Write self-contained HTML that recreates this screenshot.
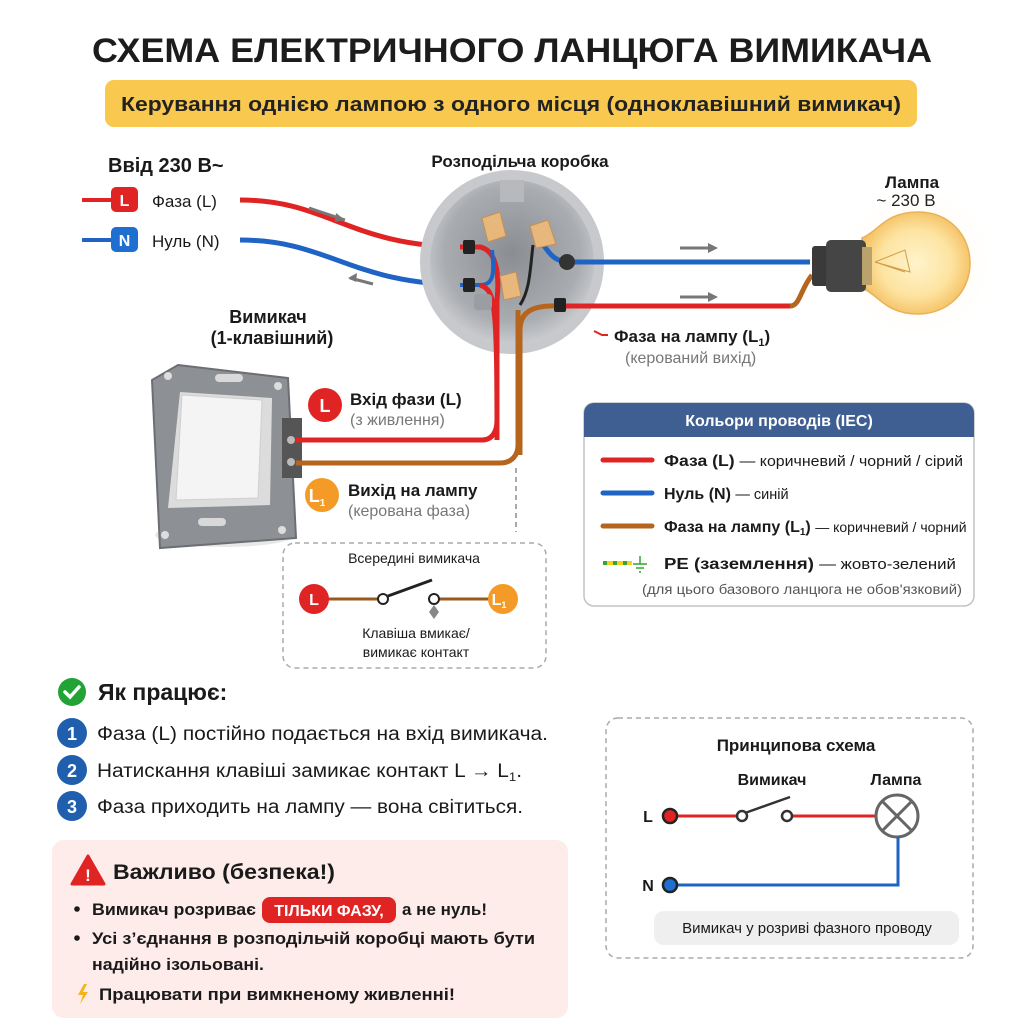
<!DOCTYPE html>
<html><head><meta charset="utf-8"><style>
html,body{margin:0;padding:0;background:#fff}
svg{display:block}
text{font-family:"Liberation Sans","DejaVu Sans",sans-serif}
</style></head><body>
<svg width="1024" height="1024" viewBox="0 0 1024 1024" xmlns="http://www.w3.org/2000/svg">
<defs>
<radialGradient id="bulb" cx="0.5" cy="0.5" r="0.55"><stop offset="0" stop-color="#fff4cc"/><stop offset="0.6" stop-color="#fde3a0"/><stop offset="1" stop-color="#f3bd5c"/></radialGradient>
<radialGradient id="glow" cx="0.5" cy="0.5" r="0.5"><stop offset="0" stop-color="#fff3cf" stop-opacity="0.9"/><stop offset="1" stop-color="#fff" stop-opacity="0"/></radialGradient>
<radialGradient id="box" cx="0.5" cy="0.45" r="0.55"><stop offset="0" stop-color="#8a8d92"/><stop offset="0.75" stop-color="#a9acb0"/><stop offset="1" stop-color="#c9cbce"/></radialGradient>
</defs>
<rect width="1024" height="1024" fill="#fff"/>
<text x="512" y="62" text-anchor="middle" font-size="34" font-weight="bold" fill="#1c1c1c" textLength="840" lengthAdjust="spacingAndGlyphs">СХЕМА ЕЛЕКТРИЧНОГО ЛАНЦЮГА ВИМИКАЧА</text>
<rect x="105" y="80" width="812" height="47" rx="9" fill="#f9c94f"/>
<text x="511" y="111" text-anchor="middle" font-size="20" font-weight="bold" fill="#222" textLength="780" lengthAdjust="spacingAndGlyphs">Керування однією лампою з одного місця (одноклавішний вимикач)</text>

<text x="108" y="172" font-size="20" font-weight="bold" fill="#1a1a1a">Ввід 230 В~</text>
<line x1="82" y1="200" x2="112" y2="200" stroke="#e02424" stroke-width="4"/>
<rect x="111" y="187" width="27" height="25" rx="5" fill="#e02424"/>
<text x="124.5" y="206" text-anchor="middle" font-size="16" font-weight="bold" fill="#fff">L</text>
<text x="152" y="207" font-size="17" fill="#1a1a1a">Фаза (L)</text>
<line x1="82" y1="240" x2="112" y2="240" stroke="#1f63c4" stroke-width="4"/>
<rect x="111" y="227" width="27" height="25" rx="5" fill="#1f6fd0"/>
<text x="124.5" y="246" text-anchor="middle" font-size="16" font-weight="bold" fill="#fff">N</text>
<text x="152" y="247" font-size="17" fill="#1a1a1a">Нуль (N)</text>

<path d="M240 200 C330 200,350 248,470 247" fill="none" stroke="#e02424" stroke-width="5"/>
<path d="M240 240 C330 240,350 285,470 285" fill="none" stroke="#1f63c4" stroke-width="5"/>
<path d="M309 208 L345 220" stroke="#777" stroke-width="3"/><path d="M345 220 l-9 -7 l-1 9z" fill="#777"/>
<path d="M373 284 L350 278" stroke="#777" stroke-width="3"/><path d="M348 278 l9 -5 l-1 9z" fill="#777"/>

<text x="520" y="167" text-anchor="middle" font-size="17" font-weight="bold" fill="#1a1a1a">Розподільча коробка</text>
<circle cx="512" cy="262" r="92" fill="#c7c9cc"/>
<circle cx="512" cy="262" r="82" fill="url(#box)"/>
<rect x="500" y="180" width="24" height="22" fill="#b7b9bc"/>
<path d="M460 247 L480 247 C495 250,500 270,497 300 L497 320" fill="none" stroke="#e02424" stroke-width="5"/>
<path d="M460 285 L480 285 C493 285,495 275,492 250" fill="none" stroke="#1f63c4" stroke-width="4"/>
<path d="M480 285 C495 290,497 300,497 440" fill="none" stroke="#e02424" stroke-width="5"/>
<path d="M540 240 C550 255,555 262,570 262 L810 262" fill="none" stroke="#1f63c4" stroke-width="5"/>
<path d="M520 455 L520 330 C520 310,535 305,560 306 L790 306 C800 306,800 290,812 275" fill="none" stroke="#b5651d" stroke-width="5"/>
<path d="M560 306 L790 306" stroke="#e02424" stroke-width="5"/>
<path d="M533 245 C530 270,530 290,520 305" fill="none" stroke="#222" stroke-width="3"/>
<rect x="463" y="240" width="12" height="14" rx="2" fill="#222"/>
<rect x="463" y="278" width="12" height="14" rx="2" fill="#222"/>
<rect x="554" y="298" width="12" height="14" rx="2" fill="#222"/>
<circle cx="567" cy="262" r="8" fill="#333"/>
<path d="M482 218 l18 -6 l6 24 l-18 6z" fill="#e8b77c" stroke="#c49057"/>
<path d="M530 226 l18 -6 l8 24 l-20 4z" fill="#e8b77c" stroke="#c49057"/>
<path d="M500 276 l16 -4 l5 24 l-17 4z" fill="#e8b77c" stroke="#c49057"/>
<rect x="474" y="294" width="18" height="16" rx="4" fill="#9a9da1"/>

<line x1="680" y1="248" x2="710" y2="248" stroke="#777" stroke-width="3"/><path d="M718 248 l-10 -5 v10z" fill="#777"/>
<line x1="680" y1="297" x2="710" y2="297" stroke="#777" stroke-width="3"/><path d="M718 297 l-10 -5 v10z" fill="#777"/>

<circle cx="918" cy="262" r="85" fill="url(#glow)"/>
<text x="912" y="188" text-anchor="middle" font-size="17" font-weight="bold" fill="#1a1a1a">Лампа</text>
<text x="906" y="206" text-anchor="middle" font-size="17" fill="#222">~ 230 В</text>
<path d="M862 238 C878 232,885 212,918 212 C950 212,970 236,970 263 C970 292,948 314,918 314 C885 314,878 294,862 288z" fill="url(#bulb)" stroke="#e9b15a" stroke-width="1.5"/>
<path d="M875 262 L905 250 L910 272 L875 262 M875 262 L905 272" stroke="#d49a45" fill="none"/>
<rect x="812" y="246" width="18" height="40" rx="3" fill="#3a3a3a"/>
<rect x="826" y="240" width="40" height="52" rx="5" fill="#454545"/>
<rect x="862" y="247" width="10" height="38" fill="#b9a26c"/>

<text x="614" y="342" font-size="17" font-weight="bold" fill="#1a1a1a">Фаза на лампу (L<tspan font-size="11" dy="4">1</tspan><tspan dy="-4">)</tspan></text>
<text x="625" y="363" font-size="16" fill="#777">(керований вихід)</text>
<path d="M594 331 l8 4 h6" stroke="#e02424" stroke-width="2" fill="none"/>

<text x="268" y="323" text-anchor="middle" font-size="18" font-weight="bold" fill="#1a1a1a">Вимикач</text>
<text x="272" y="344" text-anchor="middle" font-size="18" font-weight="bold" fill="#1a1a1a">(1-клавішний)</text>
<ellipse cx="225" cy="535" rx="70" ry="12" fill="#e8e8e8"/>
<path d="M178 365 L288 378 L296 538 L160 548 L152 380z" fill="#8d9196" stroke="#6b6f74" stroke-width="2"/>
<path d="M180 392 L272 398 L270 505 L168 508z" fill="#dcdcdc"/>
<path d="M182 395 L262 400 L258 498 L176 500z" fill="#f4f4f4" stroke="#cfcfcf"/>
<rect x="215" y="374" width="28" height="8" rx="4" fill="#d9d9d9"/>
<rect x="198" y="518" width="28" height="8" rx="4" fill="#d9d9d9"/>
<circle cx="168" cy="376" r="4" fill="#ddd"/><circle cx="278" cy="386" r="4" fill="#ddd"/>
<circle cx="165" cy="535" r="4" fill="#ddd"/><circle cx="282" cy="530" r="4" fill="#ddd"/>
<rect x="282" y="418" width="20" height="60" fill="#555"/>
<circle cx="291" cy="440" r="4" fill="#bbb"/><circle cx="291" cy="462" r="4" fill="#bbb"/>
<path d="M296 440 L482 440 C492 440,497 432,497 420 L497 300" fill="none" stroke="#e02424" stroke-width="5"/>
<path d="M296 463 L500 463 C512 463,518 455,518 445 L518 310" fill="none" stroke="#b5651d" stroke-width="5"/>

<circle cx="325" cy="405" r="17" fill="#e02424"/>
<text x="325" y="412" text-anchor="middle" font-size="18" font-weight="bold" fill="#fff">L</text>
<text x="350" y="405" font-size="17" font-weight="bold" fill="#1a1a1a">Вхід фази (L)</text>
<text x="350" y="425" font-size="16" fill="#777">(з живлення)</text>
<circle cx="322" cy="495" r="17" fill="#f39a27"/>
<text x="317" y="502" text-anchor="middle" font-size="18" font-weight="bold" fill="#fff">L<tspan font-size="10" dy="4">1</tspan></text>
<text x="348" y="496" font-size="17" font-weight="bold" fill="#1a1a1a">Вихід на лампу</text>
<text x="348" y="516" font-size="16" fill="#777">(керована фаза)</text>
<line x1="516" y1="468" x2="516" y2="532" stroke="#aaa" stroke-width="2" stroke-dasharray="5 4"/>

<rect x="283" y="543" width="263" height="125" rx="12" fill="none" stroke="#aaa" stroke-width="1.5" stroke-dasharray="5 4"/>
<text x="414" y="563" text-anchor="middle" font-size="14" fill="#1a1a1a">Всередині вимикача</text>
<line x1="318" y1="599" x2="383" y2="599" stroke="#9a5a1e" stroke-width="3"/>
<line x1="436" y1="599" x2="500" y2="599" stroke="#9a5a1e" stroke-width="3"/>
<line x1="388" y1="596" x2="432" y2="580" stroke="#222" stroke-width="3"/>
<circle cx="383" cy="599" r="5" fill="#fff" stroke="#222" stroke-width="2"/>
<circle cx="434" cy="599" r="5" fill="#fff" stroke="#222" stroke-width="2"/>
<path d="M434 605 l5 7 l-5 7 l-5 -7z" fill="#888"/>
<circle cx="314" cy="599" r="15" fill="#e02424"/><text x="314" y="605" text-anchor="middle" font-size="16" font-weight="bold" fill="#fff">L</text>
<circle cx="503" cy="599" r="15" fill="#f39a27"/><text x="499" y="605" text-anchor="middle" font-size="16" font-weight="bold" fill="#fff">L<tspan font-size="9" dy="3">1</tspan></text>
<text x="416" y="638" text-anchor="middle" font-size="14" fill="#1a1a1a">Клавіша вмикає/</text>
<text x="416" y="657" text-anchor="middle" font-size="14" fill="#1a1a1a">вимикає контакт</text>

<rect x="584" y="403" width="390" height="203" rx="10" fill="#fff" stroke="#c4c4c4" stroke-width="1.5"/>
<path d="M584 437 V413 a10 10 0 0 1 10 -10 H964 a10 10 0 0 1 10 10 V437z" fill="#3f5f93"/>
<text x="779" y="426" text-anchor="middle" font-size="16" font-weight="bold" fill="#fff">Кольори проводів (IEC)</text>
<line x1="603" y1="460" x2="652" y2="460" stroke="#e02424" stroke-width="5" stroke-linecap="round"/>
<text x="664" y="466" font-size="16" font-weight="bold" fill="#1a1a1a" textLength="299" lengthAdjust="spacingAndGlyphs">Фаза (L) <tspan font-weight="normal" font-size="14.5">— коричневий / чорний / сірий</tspan></text>
<line x1="603" y1="493" x2="652" y2="493" stroke="#1f63c4" stroke-width="5" stroke-linecap="round"/>
<text x="664" y="499" font-size="16" font-weight="bold" fill="#1a1a1a">Нуль (N) <tspan font-weight="normal" font-size="14.5">— синій</tspan></text>
<line x1="603" y1="526" x2="652" y2="526" stroke="#b5651d" stroke-width="5" stroke-linecap="round"/>
<text x="664" y="532" font-size="16" font-weight="bold" fill="#1a1a1a">Фаза на лампу (L<tspan font-size="10" dy="3">1</tspan><tspan dy="-3">) </tspan><tspan font-weight="normal" font-size="14">— коричневий / чорний</tspan></text>
<line x1="603" y1="563" x2="632" y2="563" stroke="#f2d21b" stroke-width="4"/>
<line x1="603" y1="563" x2="632" y2="563" stroke="#36a532" stroke-width="4" stroke-dasharray="4 6"/>
<path d="M640 556 v8 M633 564 h14 M636 568 h8 M639 572 h2" stroke="#36a532" stroke-width="1.5"/>
<text x="664" y="569" font-size="16" font-weight="bold" fill="#1a1a1a" textLength="292" lengthAdjust="spacingAndGlyphs">PE (заземлення) <tspan font-weight="normal" font-size="14.5">— жовто-зелений</tspan></text>
<text x="642" y="594" font-size="13.5" fill="#555" textLength="320" lengthAdjust="spacingAndGlyphs">(для цього базового ланцюга не обов'язковий)</text>

<circle cx="72" cy="692" r="14" fill="#22a336"/>
<path d="M65 692 l5 5 l9 -10" stroke="#fff" stroke-width="3.5" fill="none" stroke-linecap="round"/>
<text x="98" y="700" font-size="23" font-weight="bold" fill="#1a1a1a">Як працює:</text>
<circle cx="72" cy="733" r="15" fill="#1f5fae"/><text x="72" y="740" text-anchor="middle" font-size="18" font-weight="bold" fill="#fff">1</text>
<text x="97" y="740" font-size="19" fill="#1a1a1a" textLength="451" lengthAdjust="spacingAndGlyphs">Фаза (L) постійно подається на вхід вимикача.</text>
<circle cx="72" cy="770" r="15" fill="#1f5fae"/><text x="72" y="777" text-anchor="middle" font-size="18" font-weight="bold" fill="#fff">2</text>
<text x="97" y="777" font-size="19" fill="#1a1a1a" textLength="425" lengthAdjust="spacingAndGlyphs">Натискання клавіші замикає контакт L → L<tspan font-size="12" dy="4">1</tspan><tspan dy="-4">.</tspan></text>
<circle cx="72" cy="806" r="15" fill="#1f5fae"/><text x="72" y="813" text-anchor="middle" font-size="18" font-weight="bold" fill="#fff">3</text>
<text x="97" y="813" font-size="19" fill="#1a1a1a" textLength="426" lengthAdjust="spacingAndGlyphs">Фаза приходить на лампу — вона світиться.</text>

<rect x="52" y="840" width="516" height="178" rx="12" fill="#fdecea"/>
<path d="M88 856 L104 884 H72z" fill="#e02424" stroke="#e02424" stroke-width="3" stroke-linejoin="round"/>
<text x="88" y="881" text-anchor="middle" font-size="17" font-weight="bold" fill="#fff">!</text>
<text x="113" y="879" font-size="21" font-weight="bold" fill="#1a1a1a" textLength="222" lengthAdjust="spacingAndGlyphs">Важливо (безпека!)</text>
<circle cx="77" cy="909" r="2.8" fill="#1a1a1a"/>
<text x="92" y="915" font-size="17" font-weight="bold" fill="#1a1a1a" textLength="164" lengthAdjust="spacingAndGlyphs">Вимикач розриває</text>
<rect x="262" y="897" width="134" height="26" rx="8" fill="#e02424"/>
<text x="329" y="916" text-anchor="middle" font-size="16" font-weight="bold" fill="#fff">ТІЛЬКИ ФАЗУ,</text>
<text x="402" y="915" font-size="17" font-weight="bold" fill="#1a1a1a">а не нуль!</text>
<circle cx="77" cy="938" r="2.8" fill="#1a1a1a"/>
<text x="92" y="944" font-size="17" font-weight="bold" fill="#1a1a1a" textLength="443" lengthAdjust="spacingAndGlyphs">Усі з’єднання в розподільчій коробці мають бути</text>
<text x="92" y="970" font-size="17" font-weight="bold" fill="#1a1a1a" textLength="172" lengthAdjust="spacingAndGlyphs">надійно ізольовані.</text>
<path d="M84 984 l-6 11 h5 l-3 9 l8 -12 h-5 l4 -8z" fill="#f6b21b"/>
<text x="99" y="1000" font-size="17" font-weight="bold" fill="#1a1a1a" textLength="356" lengthAdjust="spacingAndGlyphs">Працювати при вимкненому живленні!</text>

<rect x="606" y="718" width="367" height="240" rx="12" fill="none" stroke="#aaa" stroke-width="1.5" stroke-dasharray="5 4"/>
<text x="796" y="751" text-anchor="middle" font-size="17" font-weight="bold" fill="#1a1a1a">Принципова схема</text>
<text x="772" y="785" text-anchor="middle" font-size="16" font-weight="bold" fill="#1a1a1a">Вимикач</text>
<text x="896" y="785" text-anchor="middle" font-size="16" font-weight="bold" fill="#1a1a1a">Лампа</text>
<text x="648" y="822" text-anchor="middle" font-size="16" font-weight="bold" fill="#1a1a1a">L</text>
<text x="648" y="891" text-anchor="middle" font-size="16" font-weight="bold" fill="#1a1a1a">N</text>
<line x1="670" y1="816" x2="738" y2="816" stroke="#e02424" stroke-width="3"/>
<line x1="790" y1="816" x2="876" y2="816" stroke="#e02424" stroke-width="3"/>
<line x1="745" y1="813" x2="790" y2="797" stroke="#333" stroke-width="2.5"/>
<circle cx="742" cy="816" r="5" fill="#fff" stroke="#333" stroke-width="2.5"/>
<circle cx="787" cy="816" r="5" fill="#fff" stroke="#333" stroke-width="2.5"/>
<circle cx="897" cy="816" r="21" fill="#fff" stroke="#666" stroke-width="3"/>
<path d="M882 801 L912 831 M912 801 L882 831" stroke="#666" stroke-width="3"/>
<path d="M670 885 H898 V837" fill="none" stroke="#1f63c4" stroke-width="3"/>
<circle cx="670" cy="816" r="7" fill="#e02424" stroke="#222" stroke-width="2.5"/>
<circle cx="670" cy="885" r="7" fill="#1f6fd0" stroke="#222" stroke-width="2.5"/>
<rect x="654" y="911" width="305" height="34" rx="10" fill="#efefef"/>
<text x="807" y="933" text-anchor="middle" font-size="15" fill="#1a1a1a">Вимикач у розриві фазного проводу</text>
</svg>
</body></html>
